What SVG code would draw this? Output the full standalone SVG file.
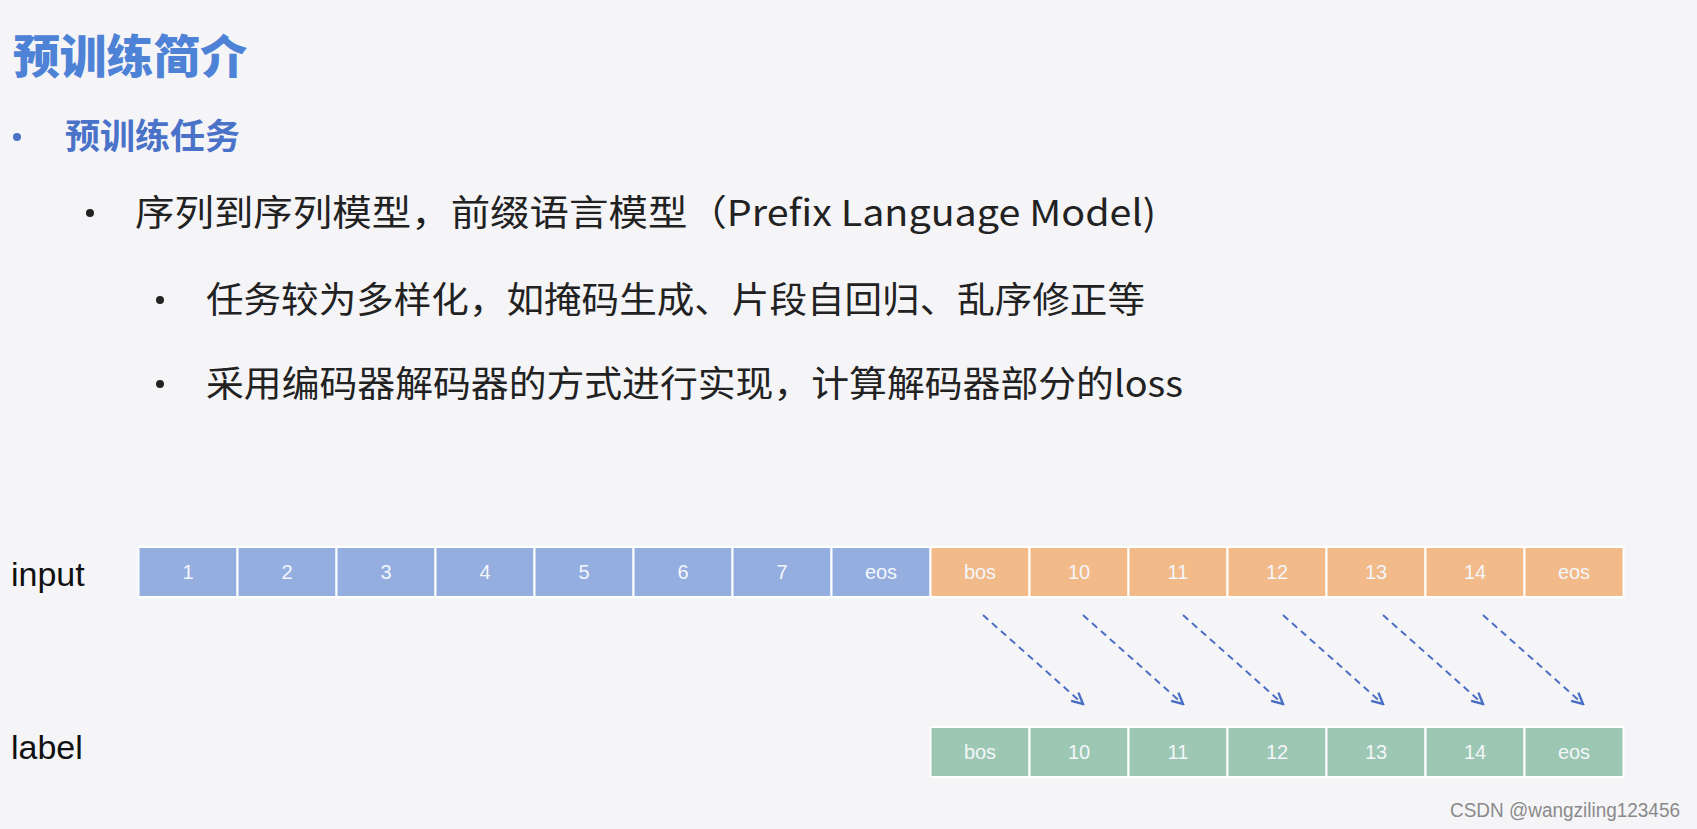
<svg xmlns="http://www.w3.org/2000/svg" width="1697" height="829" viewBox="0 0 1697 829">
<defs>
<style>
.cjk{font-family:"Noto Sans CJK SC","Noto Sans",sans-serif;}
.title{font-size:46px;font-weight:900;fill:#4d82d6;}
.sub{font-size:35px;font-weight:700;fill:#4a72c9;}
.body{font-size:36px;fill:#222;}
.lbl{font-family:"Liberation Sans",Arial,sans-serif;font-size:34px;fill:#111;}
.bx{stroke:#ffffff;stroke-width:2;}
.blue{fill:#94aee0;}
.orange{fill:#f1ba88;}
.green{fill:#9cc7b2;}
.bt{font-family:"Liberation Sans",Arial,sans-serif;font-size:20px;fill:#f4f6fb;text-anchor:middle;}
.arr{stroke:#4a6fc4;stroke-width:2;stroke-dasharray:7 5;fill:none;marker-end:url(#ah);}
.wm{font-family:"Liberation Sans",Arial,sans-serif;font-size:20px;fill:#8a8a8a;}
</style>
<marker id="ah" viewBox="0 0 14 14" refX="12" refY="7" markerWidth="14" markerHeight="14" markerUnits="userSpaceOnUse" orient="auto">
<path d="M1,1.5 L12,7 L1,12.5" fill="none" stroke="#4a6fc4" stroke-width="2.4"/>
</marker>
</defs>
<rect x="0" y="0" width="1697" height="829" fill="#f5f5f8"/>

<g id="title">
<text class="cjk title" x="13" y="73" textLength="234" lengthAdjust="spacingAndGlyphs">预训练简介</text>
</g>
<g id="bullet-1">
<circle cx="17" cy="137" r="4" fill="#4a72c9"/>
<text class="cjk sub" x="65" y="149" textLength="175" lengthAdjust="spacingAndGlyphs">预训练任务</text>
</g>
<g id="bullet-2">
<circle cx="90" cy="213" r="4" fill="#222"/>
<text class="cjk body" x="135" y="226" textLength="1021" lengthAdjust="spacingAndGlyphs">序列到序列模型，前缀语言模型（Prefix Language Model)</text>
</g>
<g id="bullet-3">
<circle cx="160" cy="300" r="4" fill="#222"/>
<text class="cjk body" x="206" y="313" textLength="939" lengthAdjust="spacingAndGlyphs">任务较为多样化，如掩码生成、片段自回归、乱序修正等</text>
</g>
<g id="bullet-4">
<circle cx="160" cy="384" r="4" fill="#222"/>
<text class="cjk body" x="206" y="397" textLength="977" lengthAdjust="spacingAndGlyphs">采用编码器解码器的方式进行实现，计算解码器部分的loss</text>
</g>

<g id="input-label"><text class="lbl" x="11" y="586">input</text></g>
<g id="label-label"><text class="lbl" x="11" y="759">label</text></g>

<g id="input-seq">
<rect class="bx blue" x="138.5" y="547" width="99" height="50"/><text class="bt" x="188" y="579">1</text>
<rect class="bx blue" x="237.5" y="547" width="99" height="50"/><text class="bt" x="287" y="579">2</text>
<rect class="bx blue" x="336.5" y="547" width="99" height="50"/><text class="bt" x="386" y="579">3</text>
<rect class="bx blue" x="435.5" y="547" width="99" height="50"/><text class="bt" x="485" y="579">4</text>
<rect class="bx blue" x="534.5" y="547" width="99" height="50"/><text class="bt" x="584" y="579">5</text>
<rect class="bx blue" x="633.5" y="547" width="99" height="50"/><text class="bt" x="683" y="579">6</text>
<rect class="bx blue" x="732.5" y="547" width="99" height="50"/><text class="bt" x="782" y="579">7</text>
<rect class="bx blue" x="831.5" y="547" width="99" height="50"/><text class="bt" x="881" y="579">eos</text>
<rect class="bx orange" x="930.5" y="547" width="99" height="50"/><text class="bt" x="980" y="579">bos</text>
<rect class="bx orange" x="1029.5" y="547" width="99" height="50"/><text class="bt" x="1079" y="579">10</text>
<rect class="bx orange" x="1128.5" y="547" width="99" height="50"/><text class="bt" x="1178" y="579">11</text>
<rect class="bx orange" x="1227.5" y="547" width="99" height="50"/><text class="bt" x="1277" y="579">12</text>
<rect class="bx orange" x="1326.5" y="547" width="99" height="50"/><text class="bt" x="1376" y="579">13</text>
<rect class="bx orange" x="1425.5" y="547" width="99" height="50"/><text class="bt" x="1475" y="579">14</text>
<rect class="bx orange" x="1524.5" y="547" width="99" height="50"/><text class="bt" x="1574" y="579">eos</text>
</g>

<g id="label-seq">
<rect class="bx green" x="930.5" y="727" width="99" height="50"/><text class="bt" x="980" y="759">bos</text>
<rect class="bx green" x="1029.5" y="727" width="99" height="50"/><text class="bt" x="1079" y="759">10</text>
<rect class="bx green" x="1128.5" y="727" width="99" height="50"/><text class="bt" x="1178" y="759">11</text>
<rect class="bx green" x="1227.5" y="727" width="99" height="50"/><text class="bt" x="1277" y="759">12</text>
<rect class="bx green" x="1326.5" y="727" width="99" height="50"/><text class="bt" x="1376" y="759">13</text>
<rect class="bx green" x="1425.5" y="727" width="99" height="50"/><text class="bt" x="1475" y="759">14</text>
<rect class="bx green" x="1524.5" y="727" width="99" height="50"/><text class="bt" x="1574" y="759">eos</text>
</g>

<g id="connectors">
<line class="arr" x1="983" y1="615" x2="1083" y2="704"/>
<line class="arr" x1="1083" y1="615" x2="1183" y2="704"/>
<line class="arr" x1="1183" y1="615" x2="1283" y2="704"/>
<line class="arr" x1="1283" y1="615" x2="1383" y2="704"/>
<line class="arr" x1="1383" y1="615" x2="1483" y2="704"/>
<line class="arr" x1="1483" y1="615" x2="1583" y2="704"/>
</g>

<g id="watermark"><text class="wm" x="1450" y="817" textLength="230" lengthAdjust="spacingAndGlyphs">CSDN @wangziling123456</text></g>
</svg>
